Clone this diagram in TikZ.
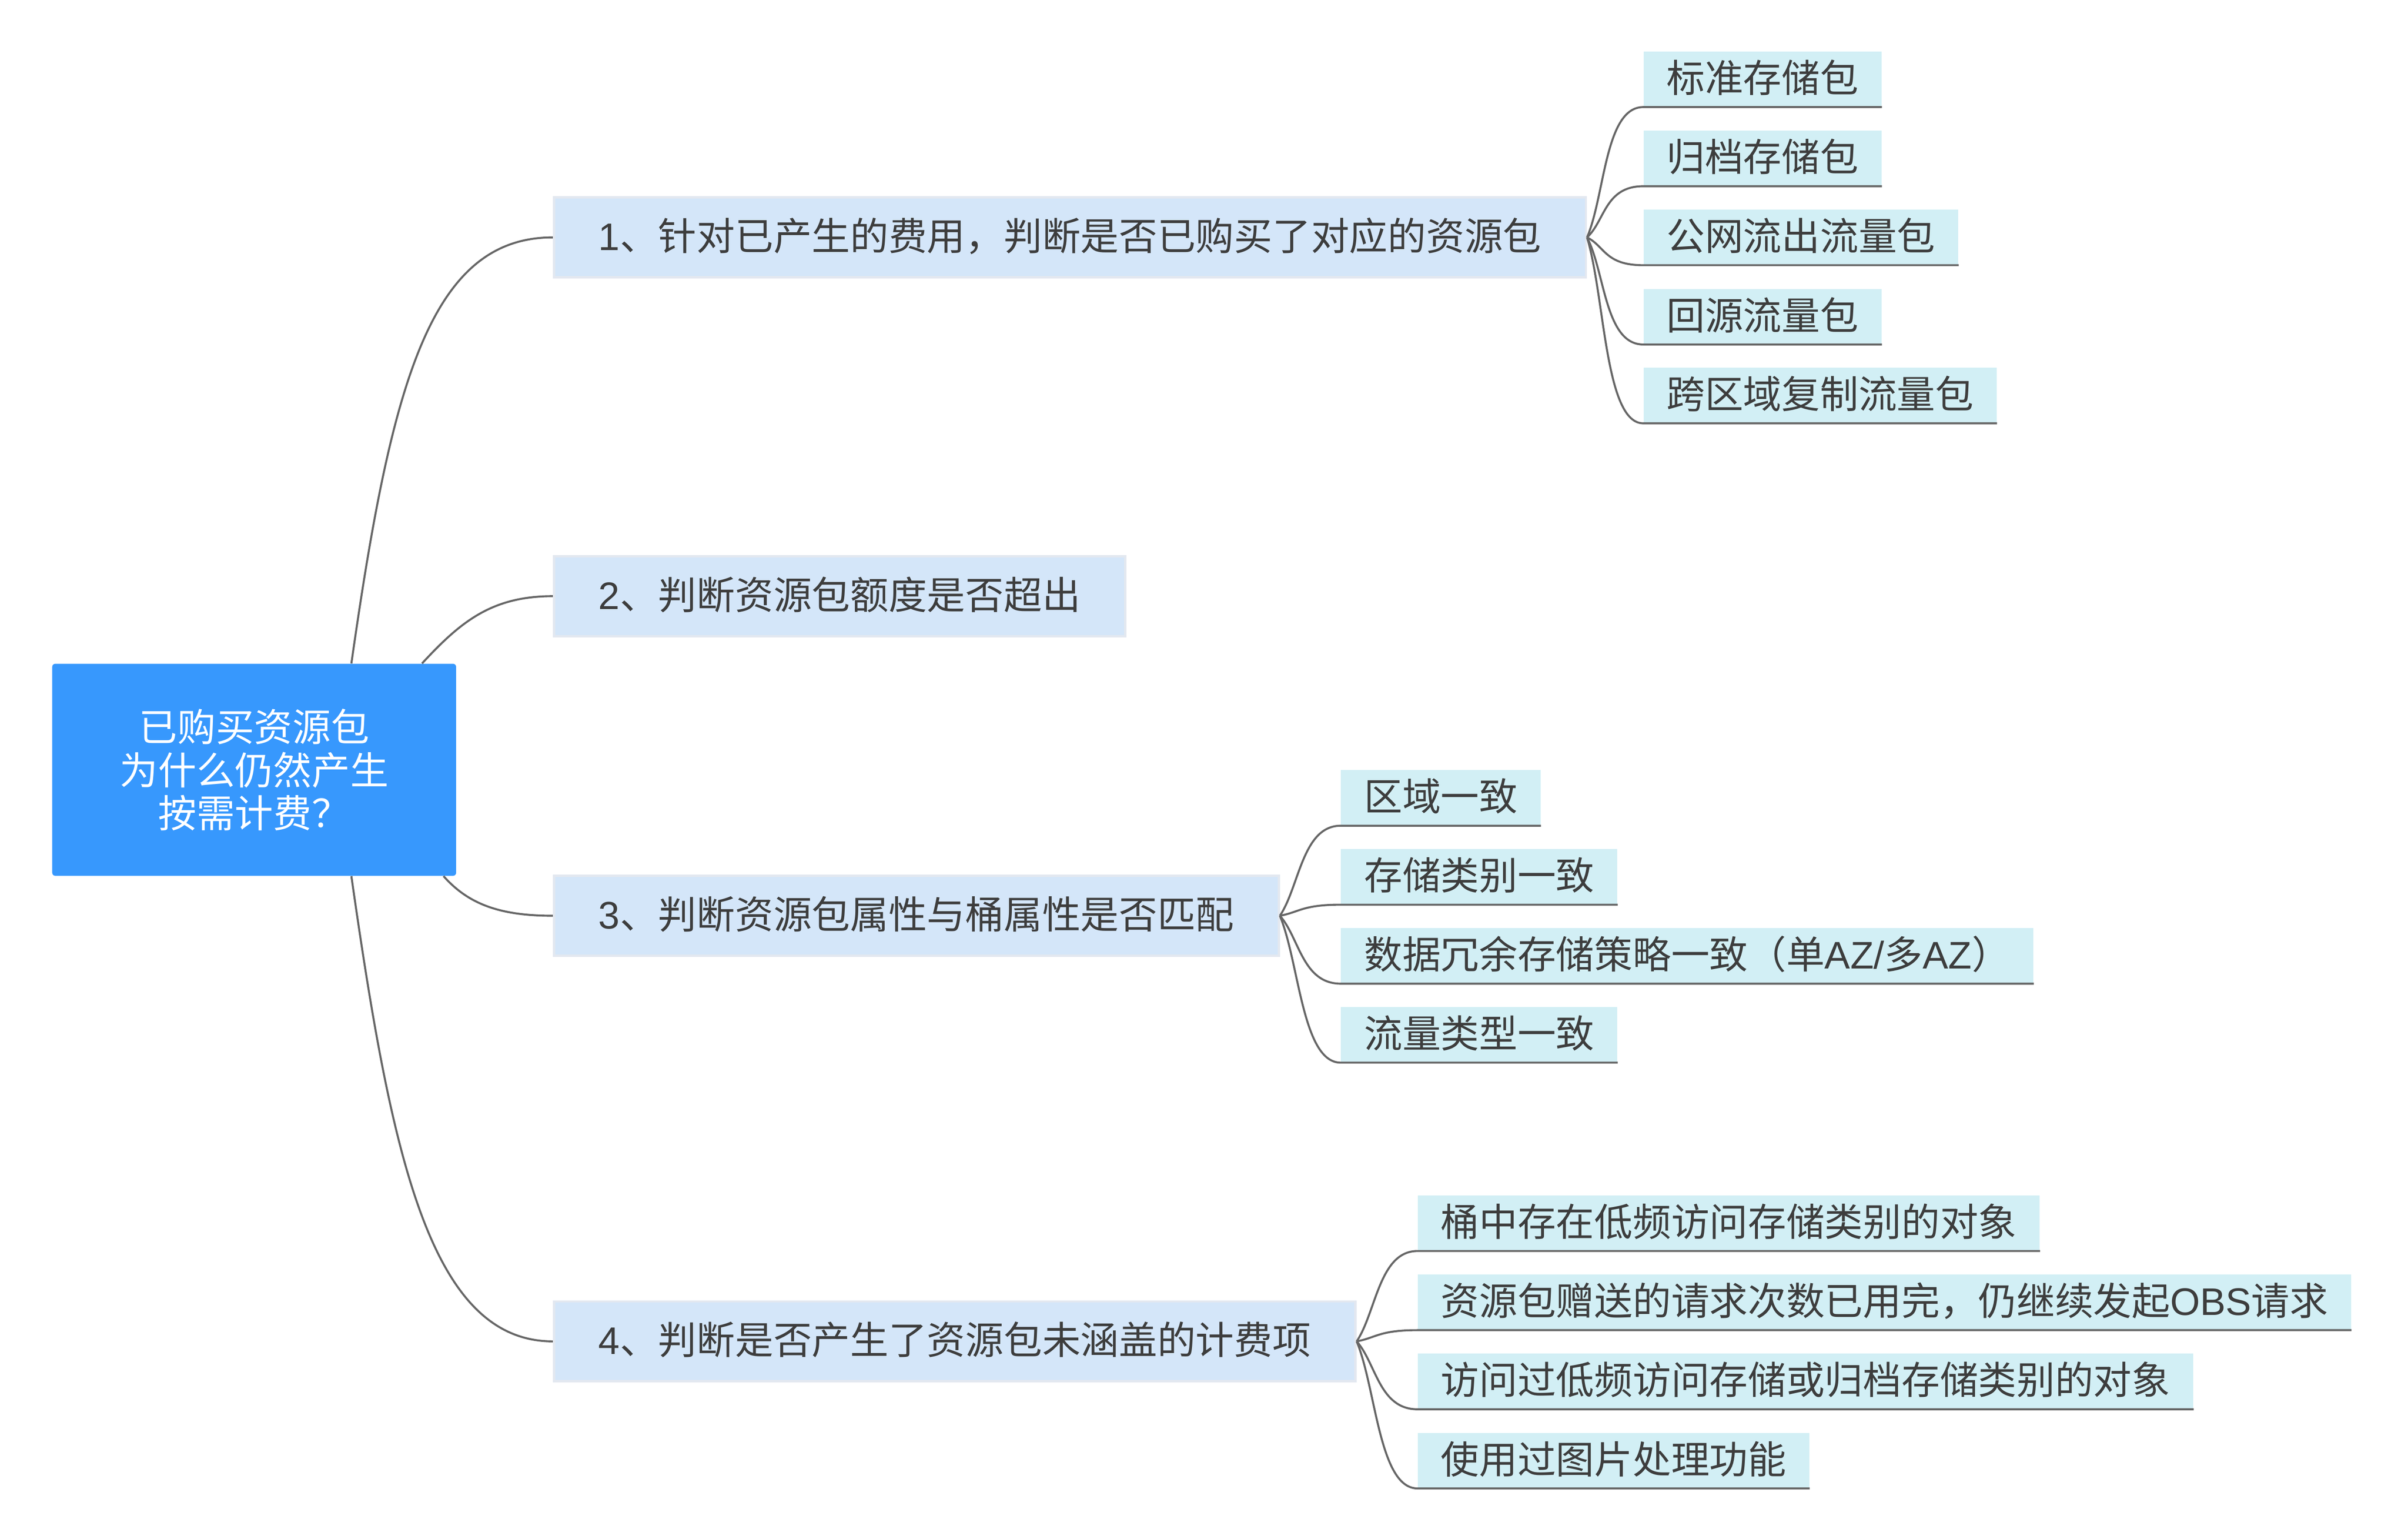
\documentclass[tikz,border=0pt]{standalone}
\usepackage{fontspec}
\setmainfont{Noto Sans CJK SC}
\newfontfamily\latinfont{Liberation Sans}
\newcommand{\lat}[1]{{\latinfont #1}}
\usetikzlibrary{calc}
\definecolor{rootblue}{HTML}{3798FD}
\definecolor{topicfill}{HTML}{D4E6F9}
\definecolor{topicedge}{HTML}{E3E8F0}
\definecolor{leaffill}{HTML}{D2EFF5}
\definecolor{linegray}{HTML}{666666}
\definecolor{textgray}{HTML}{3D3D3D}
\tikzset{
  root/.style={fill=rootblue,text=white,align=center,minimum width=263pt,minimum height=138pt,
    inner sep=0pt,rounded corners=2pt,font=\fontsize{25}{28}\selectfont},
  topic/.style={fill=topicfill,draw=topicedge,line width=1.5pt,text=textgray,anchor=west,
    inner xsep=29pt,inner ysep=0pt,minimum height=52pt,text height=21pt,text depth=4pt,
    font=\fontsize{25}{28}\selectfont},
  leaf/.style={fill=leaffill,text=textgray,anchor=south west,inner xsep=15pt,inner ysep=0pt,
    minimum height=36pt,text height=21pt,text depth=4pt,font=\fontsize{25}{28}\selectfont},
  link/.style={draw=linegray,line width=1.3pt},
  branch/.style={to path={.. controls ($(\tikztostart)!0.32!(\tikztotarget)$)
    and ($(\tikztotarget)+(-25,0)$) .. (\tikztotarget)}}
}
\begin{document}
\begin{tikzpicture}[x=1pt,y=-1pt]
  \useasboundingbox (0,0) rectangle (1568,1001.5);
  % root
  \node[root] (R) at (165.5,501) {已购买资源包\\为什么仍然产生\\按需计费？};
  \coordinate (R1) at ($(R.north west)+(195,0)$);
  \coordinate (R2) at ($(R.north west)+(241,0)$);
  \coordinate (R3) at ($(R.south west)+(255,0)$);
  \coordinate (R4) at ($(R.south west)+(195,0)$);
  % topics
  \node[topic] (T1) at (360,154.5) {\lat{1}、针对已产生的费用，判断是否已购买了对应的资源包};
  \node[topic] (T2) at (360,388) {\lat{2}、判断资源包额度是否超出};
  \node[topic] (T3) at (360,596) {\lat{3}、判断资源包属性与桶属性是否匹配};
  \node[topic] (T4) at (360,873) {\lat{4}、判断是否产生了资源包未涵盖的计费项};
  % root to topics
  \draw[link] (R1) .. controls +(26,-182) and +(-80,0) .. (T1.west);
  \draw[link] (R2) .. controls +(25,-27) and +(-40,0) .. (T2.west);
  \draw[link] (R3) .. controls +(16,18) and +(-35,0) .. (T3.west);
  \draw[link] (R4) .. controls +(26,182) and +(-80,0) .. (T4.west);
  % leaves of topic 1
  \node[leaf] (A1) at (1070,69.7) {标准存储包};
  \node[leaf] (A2) at (1070,121.2) {归档存储包};
  \node[leaf] (A3) at (1070,172.6) {公网流出流量包};
  \node[leaf] (A4) at (1070,224.2) {回源流量包};
  \node[leaf] (A5) at (1070,275.5) {跨区域复制流量包};
  % leaves of topic 3
  \node[leaf] (C1) at (873,537.4) {区域一致};
  \node[leaf] (C2) at (873,588.8) {存储类别一致};
  \node[leaf] (C3) at (873,640.2) {数据冗余存储策略一致（单\lat{AZ/}多\lat{AZ}）};
  \node[leaf] (C4) at (873,691.6) {流量类型一致};
  % leaves of topic 4
  \node[leaf] (D1) at (923,814.2) {桶中存在低频访问存储类别的对象};
  \node[leaf] (D2) at (923,865.7) {资源包赠送的请求次数已用完，仍继续发起\lat{OBS}请求};
  \node[leaf] (D3) at (923,917.2) {访问过低频访问存储或归档存储类别的对象};
  \node[leaf] (D4) at (923,968.7) {使用过图片处理功能};
  % branches with underlines
  \draw[link] (T1.east) to[branch] (A1.south west) -- (A1.south east);
  \draw[link] (T1.east) to[branch] (A2.south west) -- (A2.south east);
  \draw[link] (T1.east) to[branch] (A3.south west) -- (A3.south east);
  \draw[link] (T1.east) to[branch] (A4.south west) -- (A4.south east);
  \draw[link] (T1.east) to[branch] (A5.south west) -- (A5.south east);
  \draw[link] (T3.east) to[branch] (C1.south west) -- (C1.south east);
  \draw[link] (T3.east) to[branch] (C2.south west) -- (C2.south east);
  \draw[link] (T3.east) to[branch] (C3.south west) -- (C3.south east);
  \draw[link] (T3.east) to[branch] (C4.south west) -- (C4.south east);
  \draw[link] (T4.east) to[branch] (D1.south west) -- (D1.south east);
  \draw[link] (T4.east) to[branch] (D2.south west) -- (D2.south east);
  \draw[link] (T4.east) to[branch] (D3.south west) -- (D3.south east);
  \draw[link] (T4.east) to[branch] (D4.south west) -- (D4.south east);
\end{tikzpicture}
\end{document}
